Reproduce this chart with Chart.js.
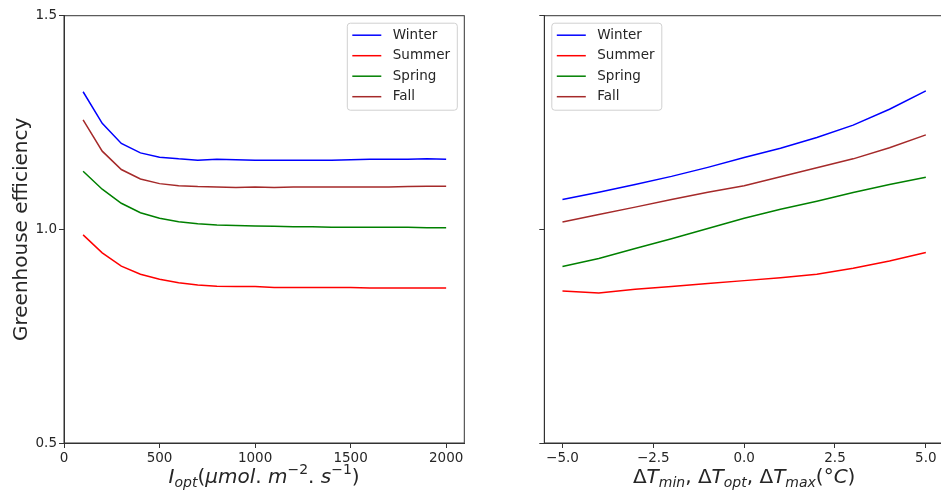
<!DOCTYPE html>
<html>
<head>
<meta charset="utf-8">
<script src="https://cdn.jsdelivr.net/npm/chart.js@4"></script>
<style>
  html, body { margin: 0; padding: 0; background: #fff; overflow: hidden; }
  #wrap { position: relative; width: 941px; height: 497px; overflow: hidden; }
  canvas { position: absolute; top: 0; }
  #left { left: 0; }
  #right { left: 500px; }
</style>
</head>
<body>
<div id="wrap">
  <canvas id="left" width="470" height="497"></canvas>
  <canvas id="right" width="450" height="497"></canvas>
</div>
<script>
// light intensity panel
const lightX = [100, 200, 300, 400, 500, 600, 700, 800, 900, 1000, 1100, 1200, 1300, 1400, 1500, 1600, 1700, 1800, 1900, 2000];
const winterLight = [1.322, 1.248, 1.201, 1.179, 1.169, 1.165, 1.162, 1.164, 1.163, 1.162, 1.162, 1.162, 1.162, 1.162, 1.163, 1.164, 1.164, 1.164, 1.165, 1.164];
const summerLight = [0.987, 0.945, 0.914, 0.895, 0.883, 0.875, 0.870, 0.867, 0.866, 0.866, 0.864, 0.864, 0.864, 0.864, 0.864, 0.863, 0.863, 0.863, 0.863, 0.863];
const springLight = [1.136, 1.094, 1.061, 1.039, 1.026, 1.018, 1.013, 1.010, 1.009, 1.008, 1.007, 1.006, 1.006, 1.005, 1.005, 1.005, 1.005, 1.005, 1.004, 1.004];
const fallLight = [1.256, 1.183, 1.140, 1.118, 1.107, 1.102, 1.100, 1.099, 1.098, 1.099, 1.098, 1.099, 1.099, 1.099, 1.099, 1.099, 1.099, 1.100, 1.101, 1.101];

// temperature shift panel
const tempX = [-5, -4, -3, -2, -1, 0, 1, 2, 3, 4, 5];
const winterTemp = [1.070, 1.087, 1.105, 1.124, 1.145, 1.168, 1.190, 1.215, 1.244, 1.281, 1.324];
const summerTemp = [0.856, 0.851, 0.860, 0.866, 0.873, 0.880, 0.887, 0.895, 0.909, 0.926, 0.946];
const springTemp = [0.913, 0.932, 0.955, 0.978, 1.002, 1.026, 1.047, 1.066, 1.086, 1.105, 1.122];
const fallTemp = [1.017, 1.035, 1.052, 1.070, 1.087, 1.102, 1.123, 1.144, 1.165, 1.191, 1.221];

const seasons = ['Winter', 'Summer', 'Spring', 'Fall'];
const seasonColors = ['#0000ff', '#ff0000', '#008000', '#a52a2a'];

const yTicks = [0.5, 1.0, 1.5];
const lightTicks = [0, 500, 1000, 1500, 2000];
const tempTicks = [-5, -2.5, 0, 2.5, 5];

const yTitle = 'Greenhouse efficiency';
const lightTitle = [
    { t: 'I', it: 1 }, { t: 'opt', it: 1, sub: 1 }, { t: '(' }, { t: 'μmol', it: 1 }, { t: '. ' },
    { t: 'm', it: 1 }, { t: '−2', sup: 1 }, { t: '. ' }, { t: 's', it: 1 }, { t: '−1', sup: 1 }, { t: ')' }
];
const tempTitle = [
    { t: 'Δ' }, { t: 'T', it: 1 }, { t: 'min', it: 1, sub: 1 }, { t: ', ' },
    { t: 'Δ' }, { t: 'T', it: 1 }, { t: 'opt', it: 1, sub: 1 }, { t: ', ' },
    { t: 'Δ' }, { t: 'T', it: 1 }, { t: 'max', it: 1, sub: 1 }, { t: '(°' }, { t: 'C', it: 1 }, { t: ')' }
];

const FONT = '"DejaVu Sans", "Liberation Sans", sans-serif';
const INK = '#262626';

function drawRich(ctx, segs, cx, baseY) {
    const fontOf = s => (s.it ? 'italic ' : '') + ((s.sub || s.sup) ? 14 : 20) + 'px ' + FONT;
    let total = 0;
    segs.forEach(s => { ctx.font = fontOf(s); s.w = ctx.measureText(s.t).width; total += s.w; });
    let x = cx - total / 2;
    ctx.textAlign = 'left';
    ctx.textBaseline = 'alphabetic';
    segs.forEach(s => {
        ctx.font = fontOf(s);
        ctx.fillText(s.t, x, baseY + (s.sub ? 4 : 0) + (s.sup ? -9 : 0));
        x += s.w;
    });
}

const extras = {
    id: 'extras',
    afterDraw(chart, args, opts) {
        const ctx = chart.ctx;
        const a = chart.chartArea;
        ctx.save();
        // frame round the plot
        ctx.strokeStyle = '#333';
        ctx.lineWidth = 1;
        ctx.strokeRect(a.left, a.top, a.right - a.left, a.bottom - a.top);

        // legend box
        const bw = 110, bh = 87;
        const x0 = opts.side === 'right' ? a.right - 7 - bw : a.left + 7.5;
        const y0 = a.top + 7.5;
        ctx.fillStyle = 'rgba(255,255,255,0.8)';
        ctx.strokeStyle = '#d0d0d0';
        ctx.beginPath();
        ctx.roundRect(x0, y0, bw, bh, 3);
        ctx.fill();
        ctx.stroke();
        ctx.font = '13.5px ' + FONT;
        ctx.textAlign = 'left';
        ctx.textBaseline = 'middle';
        chart.data.datasets.forEach((ds, i) => {
            const y = y0 + 12 + i * 20.5;
            ctx.strokeStyle = ds.borderColor;
            ctx.lineWidth = 1.5;
            ctx.beginPath();
            ctx.moveTo(x0 + 5, y);
            ctx.lineTo(x0 + 34, y);
            ctx.stroke();
            ctx.fillStyle = INK;
            ctx.fillText(ds.label, x0 + 45.5, y);
        });

        // x axis title with sub/superscripts
        ctx.fillStyle = INK;
        drawRich(ctx, opts.title, (a.left + a.right) / 2, 483);
        ctx.restore();
    }
};

function makeChart(id, xs, series, xTicks, xMin, xMax, opts) {
    const datasets = seasons.map((name, i) => ({
        label: name,
        data: xs.map((x, j) => ({ x: x, y: series[i][j] })),
        borderColor: seasonColors[i],
        backgroundColor: seasonColors[i],
        borderWidth: 1.5,
        pointRadius: 0,
        tension: 0,
        fill: false
    }));
    return new Chart(document.getElementById(id).getContext('2d'), {
        type: 'line',
        data: { datasets: datasets },
        options: {
            responsive: false,
            animation: false,
            layout: { padding: { top: 15.7, right: opts.padRight, left: 0, bottom: 0 } },
            plugins: {
                legend: { display: false },
                tooltip: { enabled: false },
                extras: { side: opts.side, title: opts.title }
            },
            scales: {
                x: {
                    type: 'linear',
                    min: xMin,
                    max: xMax,
                    afterBuildTicks: (s) => { s.ticks = xTicks.map(v => ({ value: v })); },
                    afterFit: (s) => { s.height = 54; },
                    ticks: {
                        color: INK,
                        font: { family: FONT, size: 13.5 },
                        padding: 2,
                        maxRotation: 0,
                        callback: opts.xFormat
                    },
                    grid: { drawOnChartArea: false, drawTicks: true, tickLength: 5, color: '#333' },
                    border: { color: '#333' }
                },
                y: {
                    min: 0.5,
                    max: 1.5,
                    afterBuildTicks: (s) => { s.ticks = yTicks.map(v => ({ value: v })); },
                    afterFit: (s) => { s.width = opts.yWidth; },
                    ticks: {
                        display: opts.yLabels,
                        color: INK,
                        font: { family: FONT, size: 13.5 },
                        padding: 2,
                        callback: (v) => v.toFixed(1)
                    },
                    title: {
                        display: opts.yLabels,
                        text: yTitle,
                        color: INK,
                        font: { family: FONT, size: 20 },
                        padding: { top: 10, bottom: 0 }
                    },
                    grid: { drawOnChartArea: false, drawTicks: true, tickLength: 5, color: '#333' },
                    border: { color: '#333' }
                }
            }
        },
        plugins: [extras]
    });
}

makeChart('left', lightX, [winterLight, summerLight, springLight, fallLight], lightTicks, 0, 2095, {
    side: 'right', title: lightTitle, padRight: 5.7, yWidth: 64, yLabels: true,
    xFormat: (v) => String(v)
});

makeChart('right', tempX, [winterTemp, summerTemp, springTemp, fallTemp], tempTicks, -5.5, 5.5, {
    side: 'left', title: tempTitle, padRight: 6, yWidth: 44.3, yLabels: false,
    xFormat: (v) => v.toFixed(1).replace('-', '\u2212')
});
</script>
</body>
</html>
